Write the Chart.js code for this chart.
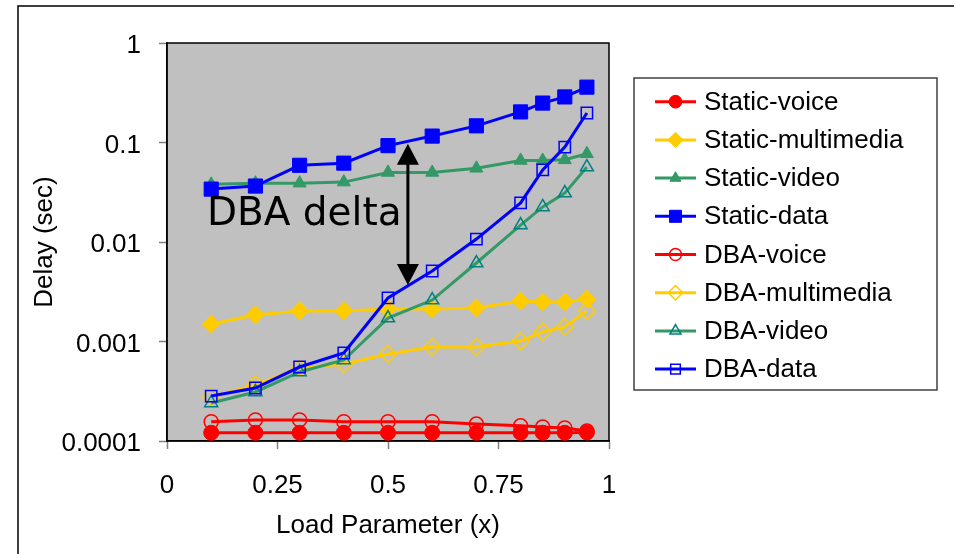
<!DOCTYPE html>
<html>
<head>
<meta charset="utf-8">
<script src="https://cdn.jsdelivr.net/npm/chart.js@4.4.1/dist/chart.umd.min.js"></script>
<style>
  html, body { margin: 0; padding: 0; background: #fff; }
  #wrap { width: 954px; height: 554px; }
</style>
</head>
<body>
<div id="wrap"><canvas id="delayChart" width="954" height="554"></canvas></div>
<script>
// load parameter on the x axis
const loadX = [0.1, 0.2, 0.3, 0.4, 0.5, 0.6, 0.7, 0.8, 0.85, 0.9, 0.95];

// delay values (sec)
const staticVoice = [0.000121, 0.000121, 0.000121, 0.000121, 0.000121, 0.000121, 0.000121, 0.000121, 0.000121, 0.000121, 0.000122];
const staticMultimedia = [0.0015, 0.00185, 0.00203, 0.00203, 0.00212, 0.00212, 0.00217, 0.00255, 0.00249, 0.00249, 0.00267];
const staticVideo = [0.038, 0.039, 0.039, 0.040, 0.050, 0.050, 0.055, 0.066, 0.066, 0.067, 0.077];
const staticData = [0.034, 0.0365, 0.059, 0.062, 0.093, 0.116, 0.147, 0.203, 0.249, 0.287, 0.36];
const dbaVoice = [0.000156, 0.000163, 0.000163, 0.000156, 0.000156, 0.000156, 0.000148, 0.000142, 0.000138, 0.000135, 0.000126];
const dbaMultimedia = [0.000277, 0.000366, 0.000542, 0.000594, 0.000749, 0.00088, 0.00088, 0.00101, 0.00125, 0.0014, 0.00203];
const dbaVideo = [0.000241, 0.000311, 0.000494, 0.000652, 0.00172, 0.00261, 0.00615, 0.0148, 0.0225, 0.031, 0.0567];
const dbaData = [0.000283, 0.000341, 0.000554, 0.000766, 0.00274, 0.00511, 0.0107, 0.0247, 0.053, 0.090, 0.198];

const seriesNames = ['Static-voice', 'Static-multimedia', 'Static-video', 'Static-data',
                     'DBA-voice', 'DBA-multimedia', 'DBA-video', 'DBA-data'];

const xTickValues = [0, 0.25, 0.5, 0.75, 1];
const xTickLabels = ['0', '0.25', '0.5', '0.75', '1'];
const yTickValues = [0.0001, 0.001, 0.01, 0.1, 1];
const yTickLabels = ['0.0001', '0.001', '0.01', '0.1', '1'];

const FONT = '"Liberation Sans", Arial, sans-serif';

function pts(vals) {
  return loadX.map((x, i) => ({ x: x, y: vals[i] }));
}

// style per series
function series(idx, vals, color, style, radius, filled, markColor) {
  const mc = markColor || color;
  return {
    label: seriesNames[idx],
    data: pts(vals),
    borderColor: color,
    borderWidth: 3,
    pointStyle: style,
    pointRadius: radius,
    pointHoverRadius: radius,
    pointBackgroundColor: filled ? mc : 'rgba(0,0,0,0)',
    pointBorderColor: mc,
    pointBorderWidth: filled ? 1 : 1.5,
    order: 7 - idx,
    tension: 0
  };
}

const datasets = [
  series(0, staticVoice, '#FF0000', 'circle', 7.5, true),
  series(1, staticMultimedia, '#FFCC00', 'rectRot', 9, true),
  series(2, staticVideo, '#339966', 'triangle', 7.5, true),
  series(3, staticData, '#0000FF', 'rect', 10, true),
  series(4, dbaVoice, '#FF0000', 'circle', 7, false),
  series(5, dbaMultimedia, '#FFCC00', 'rectRot', 8.5, false),
  series(6, dbaVideo, '#339966', 'triangle', 7.5, false, '#008080'),
  series(7, dbaData, '#0000FF', 'rect', 8, false)
];

// white page, outer frame and grey plot area
const framePlugin = {
  id: 'frame',
  beforeDraw(chart) {
    const ctx = chart.ctx;
    const a = chart.chartArea;
    ctx.save();
    ctx.fillStyle = '#fff';
    ctx.fillRect(0, 0, chart.width, chart.height);
    ctx.strokeStyle = '#000';
    ctx.lineWidth = 1.5;
    ctx.beginPath();
    ctx.moveTo(18, chart.height);
    ctx.lineTo(18, 6);
    ctx.lineTo(chart.width, 6);
    ctx.stroke();
    ctx.fillStyle = '#C0C0C0';
    ctx.fillRect(a.left, a.top, a.right - a.left, a.bottom - a.top);
    ctx.restore();
  },
  beforeDatasetsDraw(chart) {
    const ctx = chart.ctx;
    const a = chart.chartArea;
    ctx.save();
    ctx.strokeStyle = '#000';
    ctx.lineWidth = 1.5;
    ctx.strokeRect(a.left, a.top, a.right - a.left, a.bottom - a.top);
    ctx.restore();
  }
};

// "DBA delta" text and double arrow
const deltaPlugin = {
  id: 'delta',
  afterDatasetsDraw(chart) {
    const ctx = chart.ctx;
    const xs = chart.scales.x, ys = chart.scales.y;
    ctx.save();
    ctx.fillStyle = '#000';
    ctx.font = '39px "Comic Sans MS", "DejaVu Sans", sans-serif';
    ctx.textBaseline = 'alphabetic';
    ctx.textAlign = 'left';
    ctx.fillText('DBA delta', xs.getPixelForValue(0.0905), ys.getPixelForValue(0.0148));

    const ax = xs.getPixelForValue(0.545);
    const top = ys.getPixelForValue(0.097);
    const bot = ys.getPixelForValue(0.0037);
    const head = 21, half = 11;
    ctx.strokeStyle = '#000';
    ctx.lineWidth = 3;
    ctx.beginPath();
    ctx.moveTo(ax, top + head - 2);
    ctx.lineTo(ax, bot - head + 2);
    ctx.stroke();
    ctx.beginPath();
    ctx.moveTo(ax, top);
    ctx.lineTo(ax - half, top + head);
    ctx.lineTo(ax + half, top + head);
    ctx.closePath();
    ctx.fill();
    ctx.beginPath();
    ctx.moveTo(ax, bot);
    ctx.lineTo(ax - half, bot - head);
    ctx.lineTo(ax + half, bot - head);
    ctx.closePath();
    ctx.fill();
    ctx.restore();
  }
};

// boxed legend on the right
const legendBox = {
  id: 'legendBox',
  afterDraw(chart) {
    const ctx = chart.ctx;
    const box = { left: 634, top: 78, right: 937, bottom: 390 };
    ctx.save();
    ctx.strokeStyle = '#404040';
    ctx.lineWidth = 1.5;
    ctx.strokeRect(box.left, box.top, box.right - box.left, box.bottom - box.top);
    ctx.font = '26px ' + FONT;
    ctx.textBaseline = 'middle';
    ctx.textAlign = 'left';
    chart.data.datasets.forEach((ds, i) => {
      const y = 101.7 + i * 38.2;
      ctx.strokeStyle = ds.borderColor;
      ctx.lineWidth = 3;
      ctx.beginPath();
      ctx.moveTo(655, y);
      ctx.lineTo(696, y);
      ctx.stroke();
      ctx.fillStyle = ds.pointBackgroundColor;
      ctx.strokeStyle = ds.pointBorderColor;
      ctx.lineWidth = ds.pointBorderWidth;
      Chart.helpers.drawPoint(ctx, {
        pointStyle: ds.pointStyle,
        radius: ds.pointRadius * 0.85,
        borderWidth: ds.pointBorderWidth,
        rotation: 0
      }, 675.5, y);
      ctx.fillStyle = '#000';
      ctx.fillText(ds.label, 704, y + 1);
    });
    ctx.restore();
  }
};

const config = {
  type: 'line',
  data: { datasets: datasets },
  options: {
    responsive: false,
    animation: false,
    events: [],
    layout: { padding: { left: 0, top: 43, right: 345, bottom: 0 } },
    plugins: {
      legend: { display: false },
      tooltip: { enabled: false }
    },
    scales: {
      x: {
        type: 'linear',
        min: 0,
        max: 1,
        afterFit(scale) { scale.height = 113; },
        afterBuildTicks(scale) { scale.ticks = xTickValues.map(v => ({ value: v })); },
        ticks: {
          padding: 21,
          color: '#000',
          font: { family: FONT, size: 26 },
          callback: (v) => xTickLabels[xTickValues.indexOf(v)]
        },
        grid: { drawOnChartArea: false, drawTicks: true, tickLength: 8, tickColor: '#808080', tickWidth: 1.5 },
        border: { display: true, color: '#000', width: 1.5 },
        title: {
          display: true,
          text: 'Load Parameter (x)',
          color: '#000',
          font: { family: FONT, size: 26 },
          padding: { top: 0, bottom: 13 }
        }
      },
      y: {
        type: 'logarithmic',
        min: 0.0001,
        max: 1,
        afterFit(scale) { scale.width = 167; },
        afterBuildTicks(scale) { scale.ticks = yTickValues.map(v => ({ value: v })); },
        ticks: {
          padding: 18,
          labelOffset: 3,
          color: '#000',
          font: { family: FONT, size: 26 },
          callback: (v) => yTickLabels[yTickValues.indexOf(v)]
        },
        grid: { drawOnChartArea: false, drawTicks: true, tickLength: 8, tickColor: '#808080', tickWidth: 1.5 },
        border: { display: true, color: '#000', width: 1.5 },
        title: {
          display: true,
          text: 'Delay (sec)',
          color: '#000',
          font: { family: FONT, size: 26 },
          padding: { top: 29, bottom: 0 }
        }
      }
    }
  },
  plugins: [framePlugin, deltaPlugin, legendBox]
};

const delayChart = new Chart(document.getElementById('delayChart'), config);
</script>
</body>
</html>
